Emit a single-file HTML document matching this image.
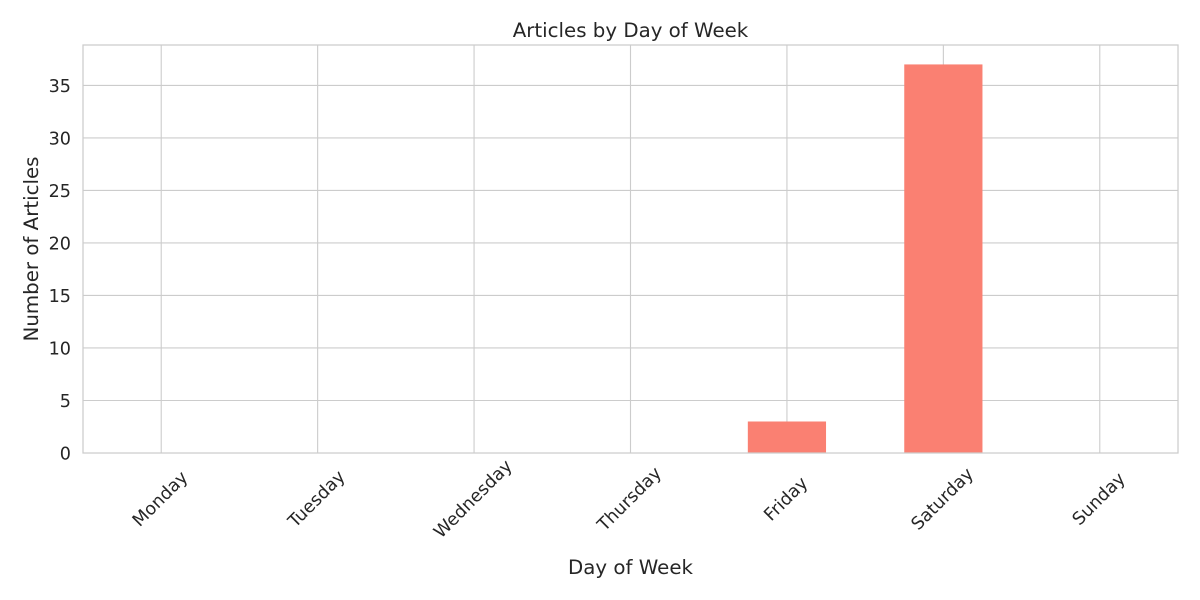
<!DOCTYPE html>
<html><head><meta charset="utf-8"><style>body{margin:0;background:#fff}svg{display:block;font-family:"DejaVu Sans","Liberation Sans",sans-serif}</style></head>
<body>
<svg id="chart" width="1200" height="600" xmlns="http://www.w3.org/2000/svg">
<rect width="1200" height="600" fill="#fff"/>
<g id="grid"></g>
<g id="bars"></g>
<rect x="83" y="45" width="1095" height="408" fill="none" stroke="#cccccc" stroke-width="1.25"/>
<g id="ticks"></g>
<text x="630.5" y="37" text-anchor="middle" font-size="19.8" fill="#262626">Articles by Day of Week</text>
<text x="630.5" y="574" text-anchor="middle" font-size="19.8" fill="#262626">Day of Week</text>
<text transform="translate(38,249) rotate(-90)" text-anchor="middle" font-size="19.8" fill="#262626">Number of Articles</text>
</svg>
<script>
const categories=["Monday","Tuesday","Wednesday","Thursday","Friday","Saturday","Sunday"];
const values=[0,0,0,0,3,37,0];
const yTicks=[0,5,10,15,20,25,30,35];
const L=83,R=1178,T=45,B=453,yMax=38.85;
const band=(R-L)/categories.length;
const x=i=>L+band*(i+0.5);
const y=v=>B-(v/yMax)*(B-T);
const NS="http://www.w3.org/2000/svg";
function mk(tag,attrs,parent){const e=document.createElementNS(NS,tag);for(const k in attrs)e.setAttribute(k,attrs[k]);parent.appendChild(e);return e;}
const grid=document.getElementById('grid'),bars=document.getElementById('bars'),ticks=document.getElementById('ticks');
yTicks.forEach(t=>{
  const l=mk('line',{x1:L,x2:R,y1:y(t),y2:y(t),stroke:'#cccccc','stroke-width':1.1},grid);
  
  
  const tx=mk('text',{x:L-12,y:y(t)+6.5,'text-anchor':'end','font-size':17.6,fill:'#262626'},ticks);
  tx.textContent=t;
  
  
});
categories.forEach((c,i)=>{
  const l=mk('line',{x1:x(i),x2:x(i),y1:T,y2:B,stroke:'#cccccc','stroke-width':1.1},grid);
  
  
  const bw=band*0.5;
  const r=mk('rect',{x:x(i)-bw/2,y:y(values[i]),width:bw,height:B-y(values[i]),fill:'#fa8072'},bars);
  
  
  const tx=mk('text',{'text-anchor':'middle','font-size':17.6,fill:'#262626',transform:`translate(${x(i)+3},${503}) rotate(-45)`},ticks);
  tx.textContent=c;
  
  
});
</script>
</body></html>
